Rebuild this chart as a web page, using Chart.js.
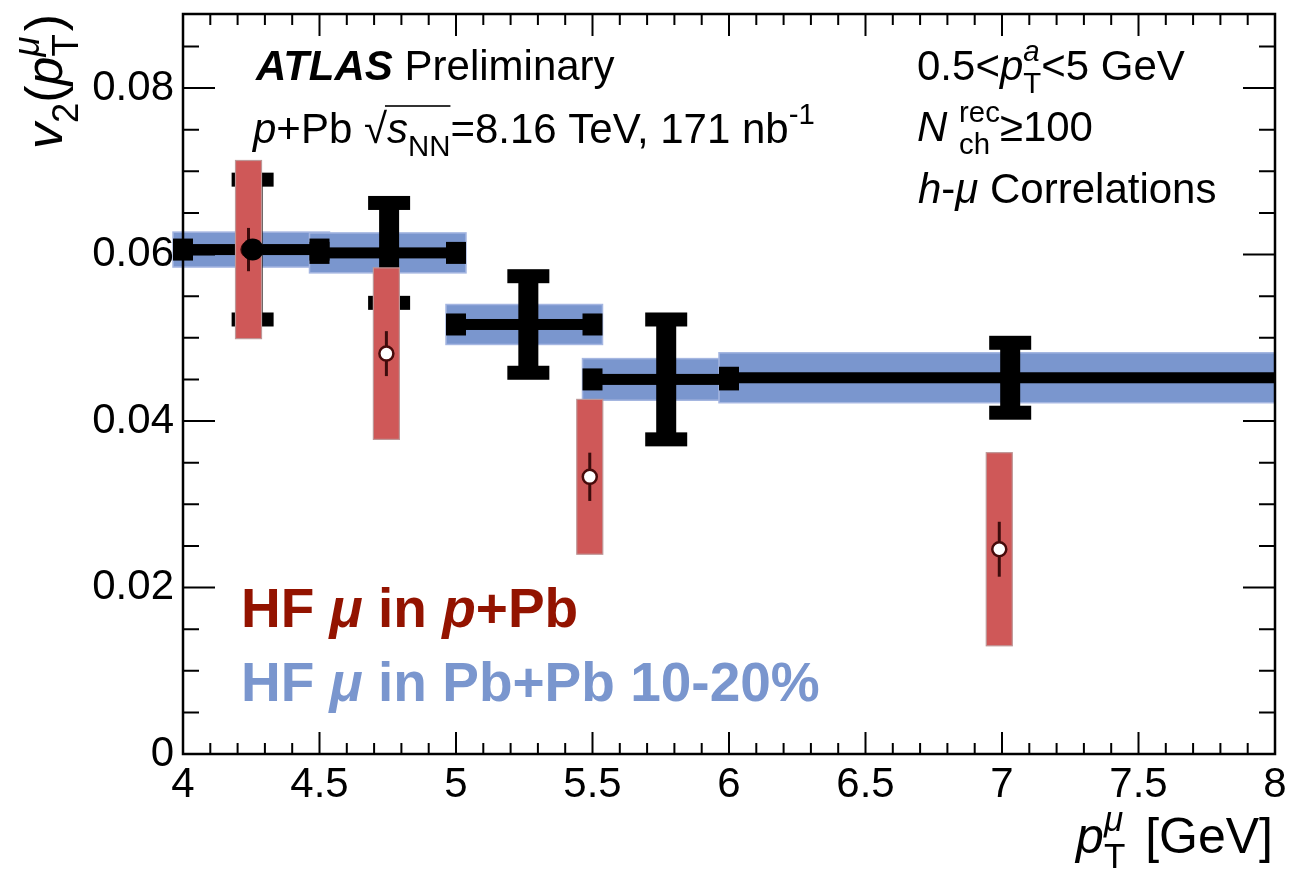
<!DOCTYPE html>
<html>
<head>
<meta charset="utf-8">
<script src="https://cdn.jsdelivr.net/npm/chart.js@4.4.0/dist/chart.umd.min.js"></script>
<style>
    html, body { margin: 0; padding: 0; background: #fff; }
    #wrap { width: 1309px; height: 873px; position: relative; }
</style>
</head>
<body>
<div id="wrap"><canvas id="chart"></canvas></div>
<script>
// Pb+Pb 10-20% (black points, blue syst boxes), one per pT bin
const binLow = [4.0, 4.5, 5.0, 5.5, 6.0];
const binHigh = [4.5, 5.0, 5.5, 6.0, 8.0];
const pbpbX = [4.255, 4.755, 5.265, 5.77, 7.03];
const pbpbV2 = [0.0606, 0.0602, 0.0516, 0.0450, 0.0452];
const pbpbStat = [0.0084, 0.0060, 0.0058, 0.0072, 0.0042];
const pbpbSyst = [0.0021, 0.0024, 0.0024, 0.0025, 0.0030];

// p+Pb (open points, red syst boxes)
const ppbX = [4.24, 4.745, 5.49, 6.99];
const ppbV2 = [0.0606, 0.0481, 0.0333, 0.0246];
const ppbStat = [0.0026, 0.0027, 0.0029, 0.0033];
const ppbSyst = [0.0107, 0.0103, 0.0093, 0.0116];

const xTicks = [4, 4.5, 5, 5.5, 6, 6.5, 7, 7.5, 8];
const yTicks = [0, 0.02, 0.04, 0.06, 0.08];

const FONT = '"Liberation Sans", Arial, Helvetica, sans-serif';
const BLUE = 'rgb(122,150,206)';
const RED_BOX = 'rgb(207,88,88)';
const RED_TEXT = 'rgb(147,19,0)';

// --- small rich-text helper (italics, sub/superscripts, sqrt) ---
function fontOf(s, size) {
    return (s.i ? 'italic ' : '') + (s.b ? 'bold ' : '') + size + 'px ' + FONT;
}
function segWidth(ctx, s, size) {
    if (s.t !== undefined) { ctx.font = fontOf(s, size); return ctx.measureText(s.t).width; }
    if (s.sqrt) {
        ctx.font = fontOf({}, size);
        return ctx.measureText('\u221A').width + s.sqrt.reduce((a, q) => a + segWidth(ctx, q, size), 0);
    }
    let w = 0;
    if (s.sub) { ctx.font = fontOf({ i: s.subI }, size * 0.7); w = Math.max(w, ctx.measureText(s.sub).width); }
    if (s.sup) { ctx.font = fontOf({ i: s.supI }, size * 0.7); w = Math.max(w, ctx.measureText(s.sup).width); }
    return w + (s.pad || 0);
}
function drawSegs(ctx, x, y, segs, size) {
    for (const s of segs) {
        const w = segWidth(ctx, s, size);
        if (s.t !== undefined) {
            ctx.font = fontOf(s, size);
            ctx.fillText(s.t, x, y);
        } else if (s.sqrt) {
            ctx.font = fontOf({}, size);
            const rw = ctx.measureText('\u221A').width;
            ctx.fillText('\u221A', x, y);
            drawSegs(ctx, x + rw, y, s.sqrt, size);
            ctx.fillRect(x + rw - 2, y - size * 0.9, w - rw + 2, 1.6);
        } else {
            if (s.sub) { ctx.font = fontOf({ i: s.subI }, size * 0.7); ctx.fillText(s.sub, x + (s.subDx || 0), y + size * 0.3); }
            if (s.sup) { ctx.font = fontOf({ i: s.supI }, size * 0.7); ctx.fillText(s.sup, x + (s.supDx || 0), y - size * 0.45); }
        }
        x += w;
    }
}
function drawRich(ctx, x, y, segs, size, align) {
    const w = segs.reduce((a, s) => a + segWidth(ctx, s, size), 0);
    ctx.textAlign = 'left';
    ctx.textBaseline = 'alphabetic';
    drawSegs(ctx, align === 'right' ? x - w : x, y, segs, size);
}

const hepPlugin = {
    id: 'hep',
    beforeDatasetsDraw(chart) {
        const { ctx, scales: { x, y }, chartArea: a } = chart;
        ctx.save();
        ctx.beginPath();
        ctx.rect(0, 0, a.right - 1, chart.height);
        ctx.clip();

        // blue systematic boxes
        binLow.forEach((lo, i) => {
            const x0 = x.getPixelForValue(lo) - 10, x1 = x.getPixelForValue(binHigh[i]) + 10;
            const y0 = y.getPixelForValue(pbpbV2[i] + pbpbSyst[i]);
            const y1 = y.getPixelForValue(pbpbV2[i] - pbpbSyst[i]);
            ctx.fillStyle = BLUE;
            ctx.fillRect(x0, y0, x1 - x0, y1 - y0);
            ctx.strokeStyle = 'rgb(165,182,225)';
            ctx.lineWidth = 1.5;
            ctx.strokeRect(x0, y0, x1 - x0, y1 - y0);
        });

        // black stat bars with bin-width horizontal bars
        ctx.fillStyle = '#000';
        pbpbX.forEach((xv, i) => {
            const px = x.getPixelForValue(xv), py = y.getPixelForValue(pbpbV2[i]);
            const x0 = x.getPixelForValue(binLow[i]), x1 = x.getPixelForValue(binHigh[i]);
            const yt = y.getPixelForValue(pbpbV2[i] + pbpbStat[i]);
            const yb = y.getPixelForValue(pbpbV2[i] - pbpbStat[i]);
            ctx.fillRect(x0, py - 5.5, x1 - x0, 11);
            ctx.fillRect(x0 - 10, py - 11, 20, 22);
            if (x1 < a.right - 5) ctx.fillRect(x1 - 10, py - 11, 20, 22);
            ctx.fillRect(px - 10, yt, 20, yb - yt);
            ctx.fillRect(px - 21, yt - 7, 42, 14);
            ctx.fillRect(px - 21, yb - 7, 42, 14);
        });

        // red systematic boxes and thin stat bars
        ppbX.forEach((xv, i) => {
            const px = x.getPixelForValue(xv);
            const yt = y.getPixelForValue(ppbV2[i] + ppbSyst[i]);
            const yb = y.getPixelForValue(ppbV2[i] - ppbSyst[i]);
            ctx.fillStyle = RED_BOX;
            ctx.fillRect(px - 13, yt, 26, yb - yt);
            ctx.strokeStyle = 'rgb(190,150,150)';
            ctx.lineWidth = 1.2;
            ctx.strokeRect(px - 13, yt, 26, yb - yt);
            const st = y.getPixelForValue(ppbV2[i] + ppbStat[i]);
            const sb = y.getPixelForValue(ppbV2[i] - ppbStat[i]);
            ctx.strokeStyle = 'rgb(60,12,12)';
            ctx.lineWidth = 3;
            ctx.beginPath();
            ctx.moveTo(px, st);
            ctx.lineTo(px, sb);
            ctx.stroke();
        });
        ctx.restore();
    },
    afterDraw(chart) {
        const { ctx, scales: { x, y }, chartArea: a } = chart;
        ctx.save();
        ctx.strokeStyle = '#000';
        ctx.fillStyle = '#000';

        // frame
        ctx.lineWidth = 2.5;
        ctx.strokeRect(a.left, a.top, a.right - a.left, a.bottom - a.top);

        // inward ticks on all four sides
        ctx.lineWidth = 2;
        ctx.beginPath();
        for (let k = 0; k <= 40; k++) {
            const v = 4 + k * 0.1;
            const px = x.getPixelForValue(v);
            const len = k % 5 === 0 ? 22 : 11;
            ctx.moveTo(px, a.bottom); ctx.lineTo(px, a.bottom - len);
            ctx.moveTo(px, a.top); ctx.lineTo(px, a.top + len);
        }
        for (let k = 0; k * 0.005 <= y.max + 1e-9; k++) {
            const py = y.getPixelForValue(k * 0.005);
            const len = k % 4 === 0 ? 32 : 16;
            ctx.moveTo(a.left, py); ctx.lineTo(a.left + len, py);
            ctx.moveTo(a.right, py); ctx.lineTo(a.right - len, py);
        }
        ctx.stroke();

        // axis titles
        drawRich(ctx, a.right - 2, 853, [
            { t: 'p', i: true },
            { sub: 'T', sup: '\u03BC', supI: true, pad: 6 },
            { t: ' [GeV]' }
        ], 50, 'right');

        ctx.save();
        ctx.translate(62, 14);
        ctx.rotate(-Math.PI / 2);
        drawRich(ctx, 0, 0, [
            { t: 'v', i: true },
            { sub: '2' },
            { t: '(' },
            { t: 'p', i: true },
            { sub: 'T', sup: '\u03BC', supI: true, pad: 3 },
            { t: ')' }
        ], 52, 'right');
        ctx.restore();

        // ATLAS labels
        drawRich(ctx, 256, 80, [{ t: 'ATLAS', b: true, i: true }, { t: ' Preliminary' }], 42);
        drawRich(ctx, 253, 143, [
            { t: 'p', i: true }, { t: '+Pb ' },
            { sqrt: [{ t: 's', i: true }, { sub: 'NN' }] },
            { t: '=8.16 TeV, 171 nb' }, { sup: '-1' }
        ], 42);
        drawRich(ctx, 917, 80, [
            { t: '0.5<' }, { t: 'p', i: true },
            { sub: 'T', sup: 'a', supI: true }, { t: '<5 GeV' }
        ], 42);
        drawRich(ctx, 917, 141, [
            { t: 'N', i: true }, { t: ' ' },
            { sub: 'ch', sup: 'rec' }, { t: '\u2265100' }
        ], 42);
        drawRich(ctx, 918, 203, [
            { t: 'h', i: true }, { t: '-' }, { t: '\u03BC', i: true }, { t: ' Correlations' }
        ], 42);

        // legend text
        ctx.fillStyle = RED_TEXT;
        drawRich(ctx, 241, 627, [
            { t: 'HF ', b: true }, { t: '\u03BC', b: true, i: true }, { t: ' in ', b: true },
            { t: 'p', b: true, i: true }, { t: '+Pb', b: true }
        ], 55);
        ctx.fillStyle = BLUE;
        drawRich(ctx, 241, 701, [
            { t: 'HF ', b: true }, { t: '\u03BC', b: true, i: true }, { t: ' in Pb+Pb 10-20%', b: true }
        ], 55);
        ctx.restore();
    }
};

new Chart(document.getElementById('chart').getContext('2d'), {
    type: 'scatter',
    data: {
        datasets: [
            {
                label: 'HF mu in Pb+Pb 10-20%',
                data: pbpbX.map((v, i) => ({ x: v, y: pbpbV2[i] })),
                pointRadius: 11,
                pointBackgroundColor: '#000',
                pointBorderColor: '#000',
                pointBorderWidth: 0,
                order: 1
            },
            {
                label: 'HF mu in p+Pb',
                data: ppbX.map((v, i) => ({ x: v, y: ppbV2[i] })),
                pointRadius: 7,
                pointBackgroundColor: '#fff',
                pointBorderColor: 'rgb(70,10,10)',
                pointBorderWidth: 2.5,
                order: 2
            }
        ]
    },
    options: {
        responsive: true,
        maintainAspectRatio: false,
        animation: false,
        layout: { padding: { left: 0, right: 34, top: 14, bottom: 0 } },
        plugins: {
            legend: { display: false },
            tooltip: { enabled: false }
        },
        scales: {
            x: {
                type: 'linear',
                min: 4,
                max: 8,
                afterBuildTicks: (s) => { s.ticks = xTicks.map(v => ({ value: v })); },
                afterFit: (s) => { s.height = 119; s.paddingLeft = 0; s.paddingRight = 0; },
                grid: { display: false, drawTicks: false },
                border: { display: false },
                ticks: {
                    autoSkip: false,
                    maxRotation: 0,
                    padding: 6,
                    color: '#000',
                    font: { family: FONT, size: 42 },
                    callback: (v) => String(v)
                }
            },
            y: {
                type: 'linear',
                min: 0,
                max: 0.0889,
                afterBuildTicks: (s) => { s.ticks = yTicks.map(v => ({ value: v })); },
                afterFit: (s) => { s.width = 183; s.paddingTop = 0; s.paddingBottom = 0; },
                grid: { display: false, drawTicks: false },
                border: { display: false },
                ticks: {
                    padding: 9,
                    color: '#000',
                    font: { family: FONT, size: 42 },
                    callback: (v) => v === 0 ? '0' : v.toFixed(2)
                }
            }
        }
    },
    plugins: [hepPlugin]
});
</script>
</body>
</html>
